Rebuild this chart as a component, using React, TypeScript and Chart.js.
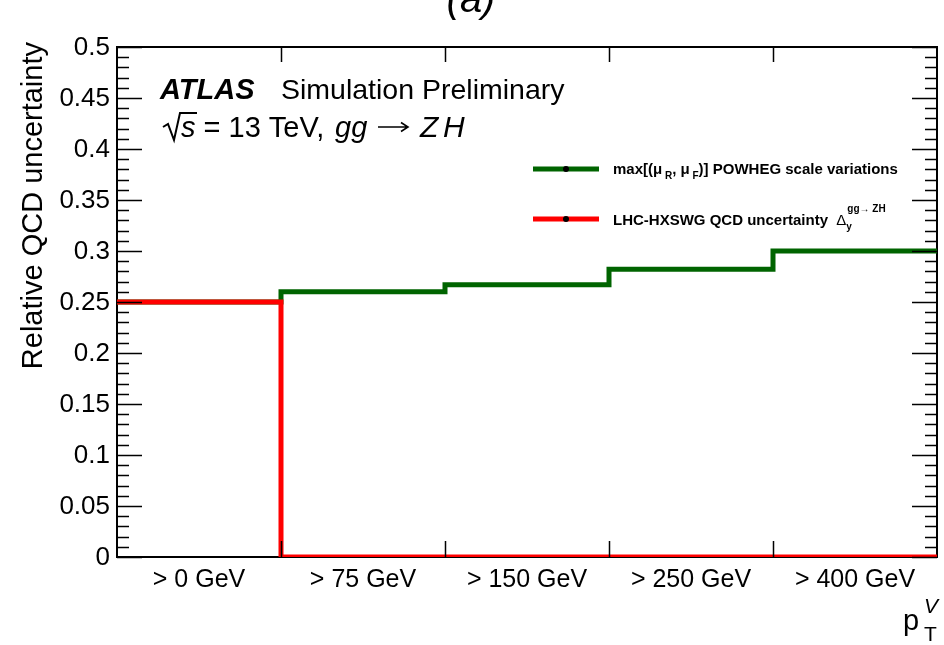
import React, { useEffect, useRef } from "react";
import { Chart, registerables } from "chart.js";

Chart.register(...registerables);

const categories = ["> 0 GeV", "> 75 GeV", "> 150 GeV", "> 250 GeV", "> 400 GeV"];
// bin values (one per category)
const powhegValues = [0.25, 0.26, 0.267, 0.282, 0.3];
const lhcValues = [0.25, 0, 0, 0, 0];
const yMajorTicks = [0, 0.05, 0.1, 0.15, 0.2, 0.25, 0.3, 0.35, 0.4, 0.45, 0.5];
const yTickLabels = ["0", "0.05", "0.1", "0.15", "0.2", "0.25", "0.3", "0.35", "0.4", "0.45", "0.5"];
const yMinorStep = 0.01;

const GREEN = "#006400";
const RED = "#ff0000";
const FONT = "'Liberation Sans', Arial, Helvetica, sans-serif";

// step-histogram points: value of bin i spans [i, i+1] (stepped "before")
function stepPoints(vals: number[]) {
  const pts = vals.map((v, i) => ({ x: i, y: v }));
  pts.push({ x: vals.length, y: vals[vals.length - 1] });
  return pts;
}

type Piece = { t: string; font: string; dy?: number };
function drawPieces(ctx: CanvasRenderingContext2D, x: number, y: number, pieces: Piece[]) {
  let cx = x;
  for (const p of pieces) {
    ctx.font = p.font;
    ctx.fillText(p.t, cx, y + (p.dy || 0));
    cx += ctx.measureText(p.t).width;
  }
  return cx;
}

const decorPlugin = {
  id: "rootDecor",
  beforeDatasetsDraw(chart: any) {
    const ctx: CanvasRenderingContext2D = chart.ctx;
    const { left, right, top, bottom } = chart.chartArea;
    ctx.save();
    ctx.strokeStyle = "#000";
    ctx.lineWidth = 2;
    ctx.strokeRect(left, top, right - left, bottom - top);
    ctx.restore();
  },
  afterDatasetsDraw(chart: any) {
    const ctx: CanvasRenderingContext2D = chart.ctx;
    const { left, right, top, bottom } = chart.chartArea;
    const xs = chart.scales.x;
    const ys = chart.scales.y;
    ctx.save();
    ctx.strokeStyle = "#000";
    ctx.lineWidth = 1.5;
    const nMinor = Math.round(0.5 / yMinorStep);
    for (let i = 0; i <= nMinor; i++) {
      const v = i * yMinorStep;
      const py = Math.round(ys.getPixelForValue(v)) + 0.5;
      const len = i % 5 === 0 ? 25 : 12;
      ctx.beginPath();
      ctx.moveTo(left, py);
      ctx.lineTo(left + len, py);
      ctx.moveTo(right, py);
      ctx.lineTo(right - len, py);
      ctx.stroke();
    }
    for (let i = 1; i < categories.length; i++) {
      const px = Math.round(xs.getPixelForValue(i)) + 0.5;
      ctx.beginPath();
      ctx.moveTo(px, bottom);
      ctx.lineTo(px, bottom - 16);
      ctx.moveTo(px, top);
      ctx.lineTo(px, top + 15);
      ctx.stroke();
    }
    ctx.restore();
  },
  afterDraw(chart: any) {
    const ctx: CanvasRenderingContext2D = chart.ctx;
    const { left, top } = chart.chartArea;
    const xs = chart.scales.x;
    const ys = chart.scales.y;
    ctx.save();
    ctx.fillStyle = "#000";

    // y tick labels
    ctx.font = `26px ${FONT}`;
    ctx.textAlign = "right";
    ctx.textBaseline = "middle";
    yMajorTicks.forEach((v, i) => {
      ctx.fillText(yTickLabels[i], left - 7, ys.getPixelForValue(v) + 1);
    });

    // x category labels
    ctx.font = `25px ${FONT}`;
    ctx.textAlign = "center";
    ctx.textBaseline = "alphabetic";
    categories.forEach((c, i) => {
      ctx.fillText(c, xs.getPixelForValue(i + 0.5), 587);
    });

    // y axis title
    ctx.save();
    ctx.translate(42, top - 5);
    ctx.rotate(-Math.PI / 2);
    ctx.font = `29px ${FONT}`;
    ctx.textAlign = "right";
    ctx.textBaseline = "alphabetic";
    ctx.fillText("Relative QCD uncertainty", 0, 0);
    ctx.restore();

    // x axis title p_T^V
    ctx.textAlign = "left";
    ctx.textBaseline = "alphabetic";
    ctx.font = `29px ${FONT}`;
    ctx.fillText("p", 903, 630);
    ctx.font = `21px ${FONT}`;
    ctx.fillText("T", 924, 641);
    ctx.font = `italic 21px ${FONT}`;
    ctx.fillText("V", 924, 613);

    // cut-off title
    ctx.textAlign = "center";
    ctx.font = `italic 40px ${FONT}`;
    ctx.fillText("(a)", 471, 12);

    // ATLAS label
    ctx.textAlign = "left";
    ctx.font = `italic bold 29px ${FONT}`;
    ctx.fillText("ATLAS", 160, 99);
    ctx.font = `28.5px ${FONT}`;
    ctx.fillText("Simulation Preliminary", 281, 99);

    // sqrt(s) line
    ctx.lineWidth = 2;
    ctx.strokeStyle = "#000";
    ctx.beginPath();
    ctx.moveTo(163, 127);
    ctx.lineTo(168, 124);
    ctx.lineTo(174, 140);
    ctx.lineTo(180, 113);
    ctx.lineTo(197, 113);
    ctx.stroke();
    drawPieces(ctx, 181, 137, [
      { t: "s", font: `italic 29px ${FONT}` },
      { t: " = 13 TeV, ", font: `29px ${FONT}` },
    ]);
    ctx.font = `italic 29px ${FONT}`;
    ctx.fillText("gg", 335, 137);
    // arrow
    ctx.lineWidth = 1.6;
    ctx.beginPath();
    ctx.moveTo(378, 127);
    ctx.lineTo(408, 127);
    ctx.moveTo(401, 122.5);
    ctx.lineTo(408, 127);
    ctx.lineTo(401, 131.5);
    ctx.stroke();
    ctx.font = `italic 30px ${FONT}`;
    ctx.fillText("Z", 420, 137);
    ctx.fillText("H", 443, 137);

    // legend
    const legendRows = [
      { color: GREEN, y: 169 },
      { color: RED, y: 219 },
    ];
    legendRows.forEach((r) => {
      ctx.strokeStyle = r.color;
      ctx.lineWidth = 5;
      ctx.beginPath();
      ctx.moveTo(533, r.y);
      ctx.lineTo(599, r.y);
      ctx.stroke();
      ctx.fillStyle = "#000";
      ctx.beginPath();
      ctx.arc(566, r.y, 3, 0, Math.PI * 2);
      ctx.fill();
    });
    ctx.fillStyle = "#000";
    const b = `bold 15px ${FONT}`;
    const bs = `bold 10px ${FONT}`;
    drawPieces(ctx, 613, 174, [
      { t: "max[(\u03bc", font: b },
      { t: " R", font: bs, dy: 5 },
      { t: ", \u03bc", font: b },
      { t: " F", font: bs, dy: 5 },
      { t: ")] POWHEG scale variations", font: b },
    ]);
    const x2 = drawPieces(ctx, 613, 225, [
      { t: "LHC-HXSWG QCD uncertainty  ", font: b },
      { t: "\u0394", font: `15px ${FONT}` },
    ]);
    ctx.font = bs;
    ctx.fillText("y", x2, 230);
    ctx.fillText("gg\u2192 ZH", x2 + 1, 212);

    ctx.restore();
  },
};

export default function App() {
  const ref = useRef<HTMLCanvasElement | null>(null);
  useEffect(() => {
    if (!ref.current) return;
    const chart = new Chart(ref.current, {
      type: "line",
      data: {
        datasets: [
          {
            label: "LHC-HXSWG QCD uncertainty",
            data: stepPoints(lhcValues),
            borderColor: RED,
            borderWidth: 5,
            stepped: "before",
            pointRadius: 0,
            fill: false,
          },
          {
            label: "max[(muR, muF)] POWHEG scale variations",
            data: stepPoints(powhegValues),
            borderColor: GREEN,
            borderWidth: 5,
            stepped: "before",
            pointRadius: 0,
            fill: false,
          },
        ],
      },
      options: {
        animation: false,
        responsive: false,
        devicePixelRatio: 1,
        layout: { padding: { left: 117, right: 7, top: 47, bottom: 88 } },
        plugins: { legend: { display: false }, tooltip: { enabled: false } },
        scales: {
          x: { type: "linear", min: 0, max: categories.length, display: false },
          y: { type: "linear", min: 0, max: 0.5, display: false },
        },
      },
      plugins: [decorPlugin],
    });
    return () => chart.destroy();
  }, []);
  return (
    <div style={{ position: "absolute", left: 0, top: 0, width: 944, height: 645, background: "#fff" }}>
      <canvas ref={ref} width={944} height={645} style={{ width: 944, height: 645 }} />
    </div>
  );
}
